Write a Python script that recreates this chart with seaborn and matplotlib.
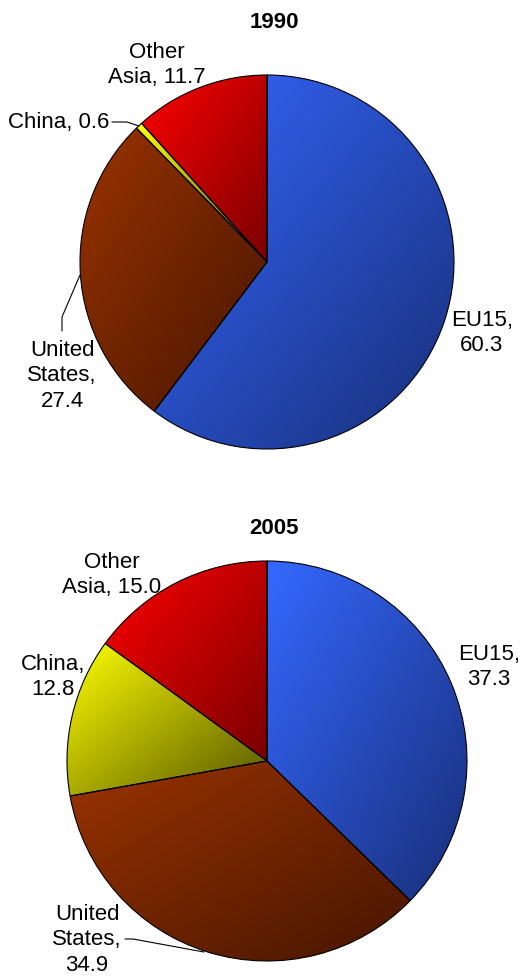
import numpy as np
import matplotlib
matplotlib.use("Agg")
import matplotlib.pyplot as plt
import seaborn as sns

# Shares by region (per cent), in drawing order clockwise from 12 o'clock
regions = ["EU15", "United States", "China", "Other Asia"]
share_1990 = [60.3, 27.4, 0.6, 11.7]
share_2005 = [37.3, 34.9, 12.8, 15.0]
years = ["1990", "2005"]

# Light -> dark shading for each region
light_colors = ["#3468FF", "#9A3300", "#FFFF00", "#FF0000"]
dark_colors = ["#182E78", "#461500", "#555500", "#7A0000"]

sns.set_theme(style="white")
plt.rcParams["font.family"] = ["Liberation Sans", "DejaVu Sans"]

W, H = 523, 978
fig = plt.figure(figsize=(W / 100, H / 100), dpi=100)
fig.patch.set_facecolor("white")

FS = 16


def pie_axes(cx, cy, r, pad=1.08):
    half = r * pad
    ax = fig.add_axes([(cx - half) / W, 1 - (cy + half) / H,
                       2 * half / W, 2 * half / H])
    return ax, pad


def to_data(px, py, cx, cy, r):
    return (px - cx) / r, -(py - cy) / r


def shaded_pie(ax, values, pad):
    wedges, _ = ax.pie(values, startangle=90, counterclock=False,
                       radius=1.0, center=(0, 0),
                       wedgeprops=dict(edgecolor="black", linewidth=0.8))
    n = 256
    X, Y = np.meshgrid(np.linspace(0, 1, n), np.linspace(0, 1, n))
    t = (X + Y) / 2.0
    for w, lc, dc in zip(wedges, light_colors, dark_colors):
        cmap = sns.blend_palette([lc, dc], as_cmap=True)
        ext = w.get_path().get_extents()
        im = ax.imshow(cmap(t), extent=(ext.x0, ext.x1, ext.y0, ext.y1),
                       origin="upper", interpolation="bilinear", zorder=1,
                       aspect="auto")
        im.set_clip_path(w)
        w.set_facecolor("none")
        w.set_zorder(2)
    ax.set_xlim(-pad, pad)
    ax.set_ylim(-pad, pad)
    ax.set_aspect("equal", adjustable="box")
    ax.axis("off")
    return wedges


def label(ax, text, px, py, geom, ha="center", **kw):
    x, y = to_data(px, py, *geom)
    ax.text(x, y, text, ha=ha, va="center", fontsize=FS, color="black",
            linespacing=1.3, clip_on=False, **kw)


def leader(ax, pts, geom):
    xs, ys = zip(*[to_data(px, py, *geom) for px, py in pts])
    ax.plot(xs, ys, color="black", lw=0.8, clip_on=False, zorder=4)


# ---- 1990 ----
g1 = (267, 263, 187)
ax1, p1 = pie_axes(*g1)
shaded_pie(ax1, share_1990, p1)
label(ax1, years[0], 274, 23, g1, fontweight="bold")
label(ax1, f"Other\nAsia, {share_1990[3]:.1f}", 157, 65, g1)
label(ax1, f"China, {share_1990[2]:.1f}", 109, 123, g1, ha="right")
label(ax1, f"United\nStates,\n{share_1990[1]:.1f}", 62, 376, g1)
label(ax1, f"EU15,\n{share_1990[0]:.1f}", 482, 333, g1)
leader(ax1, [(112, 123), (127, 123), (139, 127)], g1)
leader(ax1, [(62, 332), (62, 318), (80, 276)], g1)

# ---- 2005 ----
g2 = (267, 762, 200)
ax2, p2 = pie_axes(*g2)
shaded_pie(ax2, share_2005, p2)
label(ax2, years[1], 274, 528, g2, fontweight="bold")
label(ax2, f"Other\nAsia, {share_2005[3]:.1f}", 112, 575, g2)
label(ax2, f"China,\n{share_2005[2]:.1f}", 53, 677, g2)
label(ax2, f"EU15,\n{share_2005[0]:.1f}", 489, 667, g2)
label(ax2, f"United\nStates,\n{share_2005[1]:.1f}", 87, 940, g2)
leader(ax2, [(125, 940), (133, 940), (204, 953)], g2)

fig.savefig("out.png", dpi=100, facecolor="white")
